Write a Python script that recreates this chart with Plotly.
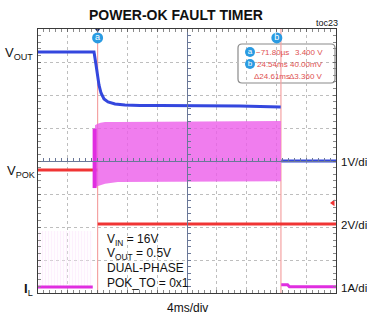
import plotly.graph_objects as go

# ---- time base: 4 ms/div, 10 divisions ----
T_RANGE = [0, 40]
t_a = 8.0            # cursor a (ms)
t_b = 32.61          # cursor b (ms)

# ---- VOUT (V), 1 V/div ----
vout_t = [0, 7.52, 7.79, 8.19, 8.46, 8.86, 9.4, 10.34, 11.68, 13.69, 16.38, 20.0,
          23.09, 27.11, 29.8, 32.58, None, 32.65, 40]
vout_v = [3.30, 3.30, 2.91, 2.30, 2.06, 1.88, 1.79, 1.73, 1.70, 1.68, 1.68, 1.68,
          1.67, 1.67, 1.65, 1.64, None, 0.0, 0.0]

# ---- VPOK (V), 2 V/div ----
pok_t = [0, 7.98, None, 8.02, 40]
pok_v = [3.27, 3.27, None, 0.0, 0.0]
pok_trigger = 1.28

# ---- IL (A), 1 A/div ----
il_t = [0, 7.35, None, 32.65, 33.5, 33.75, 40]
il_a = [0.0, 0.0, None, 0.07, 0.07, 0.01, 0.01]
il_pre_t = [0, 7.35]
il_pre_hi = [1.7, 1.7]
il_band_t = [7.65, 8.0, 8.4, 9.0, 10.7, 15, 20, 25, 32.6]
il_band_hi = [4.90, 4.95, 4.98, 5.00, 5.00, 5.01, 5.02, 5.02, 5.03]
il_band_lo = [3.03, 3.05, 3.09, 3.13, 3.18, 3.19, 3.20, 3.20, 3.21]
il_step_t = [7.6, 7.6]
il_step_a = [3.0, 4.8]

# ---- cursor readout ----
readout = [("a", "\u221271.80\u00b5s", "3.400 V"),
           ("b", "24.54ms", "40.00mV"),
           ("", "\u039424.61ms", "\u03943.360 V")]

# channel offsets (div from centre) and scales
OFF_POK, DIV_POK = -1.91, 2.0
OFF_IL, DIV_IL = -3.82, 1.0


def ch_range(offset, per_div):
    return [(-4 - offset) * per_div, (4 - offset) * per_div]


# figure geometry in pixels
W, H = 367, 320
L, R, T, B = 38, 31, 29, 27
PW, PH = W - L - R, H - T - B


def px(x, y):
    return (x - L) / PW, (H - B - y) / PH


BLUE = "#3447DE"
RED = "#F03434"
MAG = "#E02EE0"
CUR = "#F4A3A3"
MARK = "#2A9BE2"
TXT_FONT = "Liberation Sans, Arial, sans-serif"

fig = go.Figure()

# IL switching before the fault (faint)
fig.add_trace(go.Scatter(x=il_pre_t, y=[0, 0], yaxis="y4", mode="lines",
                         line=dict(width=0), hoverinfo="skip", showlegend=False))
fig.add_trace(go.Scatter(x=il_pre_t, y=il_pre_hi, yaxis="y4", mode="lines",
                         line=dict(width=0), fill="tonexty",
                         fillcolor="rgba(252,232,252,0.4)",
                         fillpattern=dict(shape="|", fgcolor="rgba(245,200,245,0.55)",
                                          bgcolor="rgba(255,245,255,0.3)", size=3, solidity=0.3),
                         hoverinfo="skip", showlegend=False))

# IL ripple envelope during the fault
fig.add_trace(go.Scatter(x=il_band_t, y=il_band_hi, yaxis="y4", mode="lines",
                         line=dict(width=0, color=MAG), hoverinfo="skip", showlegend=False))
fig.add_trace(go.Scatter(x=il_band_t, y=il_band_lo, yaxis="y4", mode="lines",
                         line=dict(width=0, color=MAG), fill="tonexty",
                         fillcolor="rgba(236,92,234,0.8)",
                         hoverinfo="skip", showlegend=False))
fig.add_trace(go.Scatter(x=il_step_t, y=il_step_a, yaxis="y4", mode="lines",
                         line=dict(width=4, color=MAG), hoverinfo="skip", showlegend=False))

# cursor lines
for tc in (t_a, t_b):
    fig.add_trace(go.Scatter(x=[tc, tc], y=[-4, 4], mode="lines",
                             line=dict(width=1.2, color=CUR), hoverinfo="skip", showlegend=False))

# VOUT
fig.add_trace(go.Scatter(x=vout_t, y=vout_v, mode="lines", connectgaps=False,
                         line=dict(width=3, color=BLUE), showlegend=False))
# VPOK
fig.add_trace(go.Scatter(x=pok_t, y=pok_v, yaxis="y3", mode="lines", connectgaps=False,
                         line=dict(width=3, color=RED), showlegend=False))
# IL
fig.add_trace(go.Scatter(x=il_t, y=il_a, yaxis="y4", mode="lines", connectgaps=False,
                         line=dict(width=3, color=MAG), showlegend=False))

# trigger markers
fig.add_trace(go.Scatter(x=[39.6], y=[pok_trigger], yaxis="y3", mode="markers",
                         marker=dict(symbol="triangle-left", size=6, color=RED),
                         cliponaxis=False, showlegend=False, hoverinfo="skip"))
fig.add_trace(go.Scatter(x=[t_a], y=[3.98], mode="markers",
                         marker=dict(symbol="triangle-down", size=5, color="#1A2A6A"),
                         cliponaxis=False, showlegend=False, hoverinfo="skip"))

# cursor badges on top of the screen
fig.add_trace(go.Scatter(x=[t_a, t_b - 0.55], y=[3.73, 3.73], mode="markers+text",
                         text=["a", "b"], textposition="middle center",
                         textfont=dict(color="white", size=9, family=TXT_FONT),
                         marker=dict(size=11, color=MARK),
                         cliponaxis=False, showlegend=False, hoverinfo="skip"))

# readout badges
bx, by1 = px(250, 52)
_, by2 = px(250, 64)
fig.add_trace(go.Scatter(x=[bx * 40, bx * 40], y=[by1 * 8 - 4, by2 * 8 - 4], mode="markers+text",
                         text=["a", "b"], textposition="middle center",
                         textfont=dict(color="white", size=8, family=TXT_FONT),
                         marker=dict(size=10, color=MARK),
                         cliponaxis=False, showlegend=False, hoverinfo="skip"))

# placeholder for centre-cross axes
fig.add_trace(go.Scatter(x=[None], y=[None], xaxis="x2", yaxis="y2", showlegend=False))

# readout box (rounded)
x0, y0 = px(238, 83)
x1, y1 = px(335, 44)
rx, ry = 4 / PW, 4 / PH
path = (f"M {x0+rx},{y0} L {x1-rx},{y0} Q {x1},{y0} {x1},{y0+ry} "
        f"L {x1},{y1-ry} Q {x1},{y1} {x1-rx},{y1} L {x0+rx},{y1} Q {x0},{y1} {x0},{y1-ry} "
        f"L {x0},{y0+ry} Q {x0},{y0} {x0+rx},{y0} Z")
fig.add_shape(type="path", path=path, xref="paper", yref="paper",
              line=dict(color="#8A8A8A", width=1.2), fillcolor="white", layer="between")

ann = []


def text(x, y, s, size=12, xanchor="left", color="#111111", family=TXT_FONT, **kw):
    ax, ay = px(x, y)
    ann.append(dict(x=ax, y=ay, xref="paper", yref="paper", text=s, showarrow=False,
                    xanchor=xanchor, yanchor="middle",
                    font=dict(size=size, color=color, family=family), **kw))


text(176, 15, "<b>POWER-OK FAULT TIMER</b>", size=14, xanchor="center")
text(327, 23, "toc23", size=9, xanchor="center")
text(35, 53, "V<sub>OUT</sub>", size=13, xanchor="right")
text(37, 171, "V<sub>POK</sub>", size=13, xanchor="right")
text(35, 289, "<b>I</b><sub>L</sub>", size=13, xanchor="right")
text(339, 162, "1V/div", size=11.5)
text(339, 225, "2V/div", size=11.5)
text(339, 288, "1A/div", size=11.5)
text(187, 308, "4ms/div", size=12, xanchor="center")
text(105, 240, "V<sub>IN</sub> = 16V", size=12)
text(105, 254, "V<sub>OUT</sub> = 0.5V", size=12)
text(105, 268, "DUAL-PHASE", size=12)
text(105, 283, "POK_TO = 0x1", size=12)

rows_y = [52, 64, 77]
for (_, c1, c2), yy in zip(readout, rows_y):
    text(272, yy, c1, size=8, xanchor="center", color="#E05050")
    text(325, yy, c2, size=8, xanchor="right", color="#E05050")

grid = dict(showgrid=True, griddash="dot", gridcolor="#BEBEBE", gridwidth=1,
            showline=True, mirror="allticks", linecolor="#3A3A3A", linewidth=1.3,
            ticks="inside", ticklen=3, tickcolor="#6A6A6A", showticklabels=False,
            zeroline=False, fixedrange=True)

fig.update_layout(
    width=W, height=H, autosize=False,
    margin=dict(l=L, r=R, t=T, b=B, pad=0),
    paper_bgcolor="white", plot_bgcolor="white",
    showlegend=False,
    xaxis=dict(range=T_RANGE, dtick=4, minor=dict(dtick=0.8, ticks="inside", ticklen=3,
                                                   tickcolor="#8A8A8A", showgrid=False), **grid),
    yaxis=dict(range=[-4, 4], dtick=1, minor=dict(dtick=0.2, ticks="inside", ticklen=3,
                                                  tickcolor="#8A8A8A", showgrid=False), **grid),
    yaxis3=dict(range=ch_range(OFF_POK, DIV_POK), overlaying="y", visible=False, fixedrange=True),
    yaxis4=dict(range=ch_range(OFF_IL, DIV_IL), overlaying="y", visible=False, fixedrange=True),
    xaxis2=dict(range=T_RANGE, overlaying="x", anchor="free", position=0.5,
                showline=True, linecolor="#6A7898", linewidth=1, showgrid=False, zeroline=False,
                ticks="inside", ticklen=3, tickcolor="#6A7898", dtick=4, showticklabels=False,
                minor=dict(dtick=0.8, ticks="inside", ticklen=3, tickcolor="#6A7898"),
                layer="above traces", fixedrange=True),
    yaxis2=dict(range=[-4, 4], overlaying="y", anchor="free", position=0.5,
                showline=True, linecolor="#6A7898", linewidth=1, showgrid=False, zeroline=False,
                ticks="inside", ticklen=3, tickcolor="#6A7898", dtick=1, showticklabels=False,
                minor=dict(dtick=0.2, ticks="inside", ticklen=3, tickcolor="#6A7898"),
                layer="above traces", fixedrange=True),
    annotations=ann,
)

fig.write_html("out.html")
